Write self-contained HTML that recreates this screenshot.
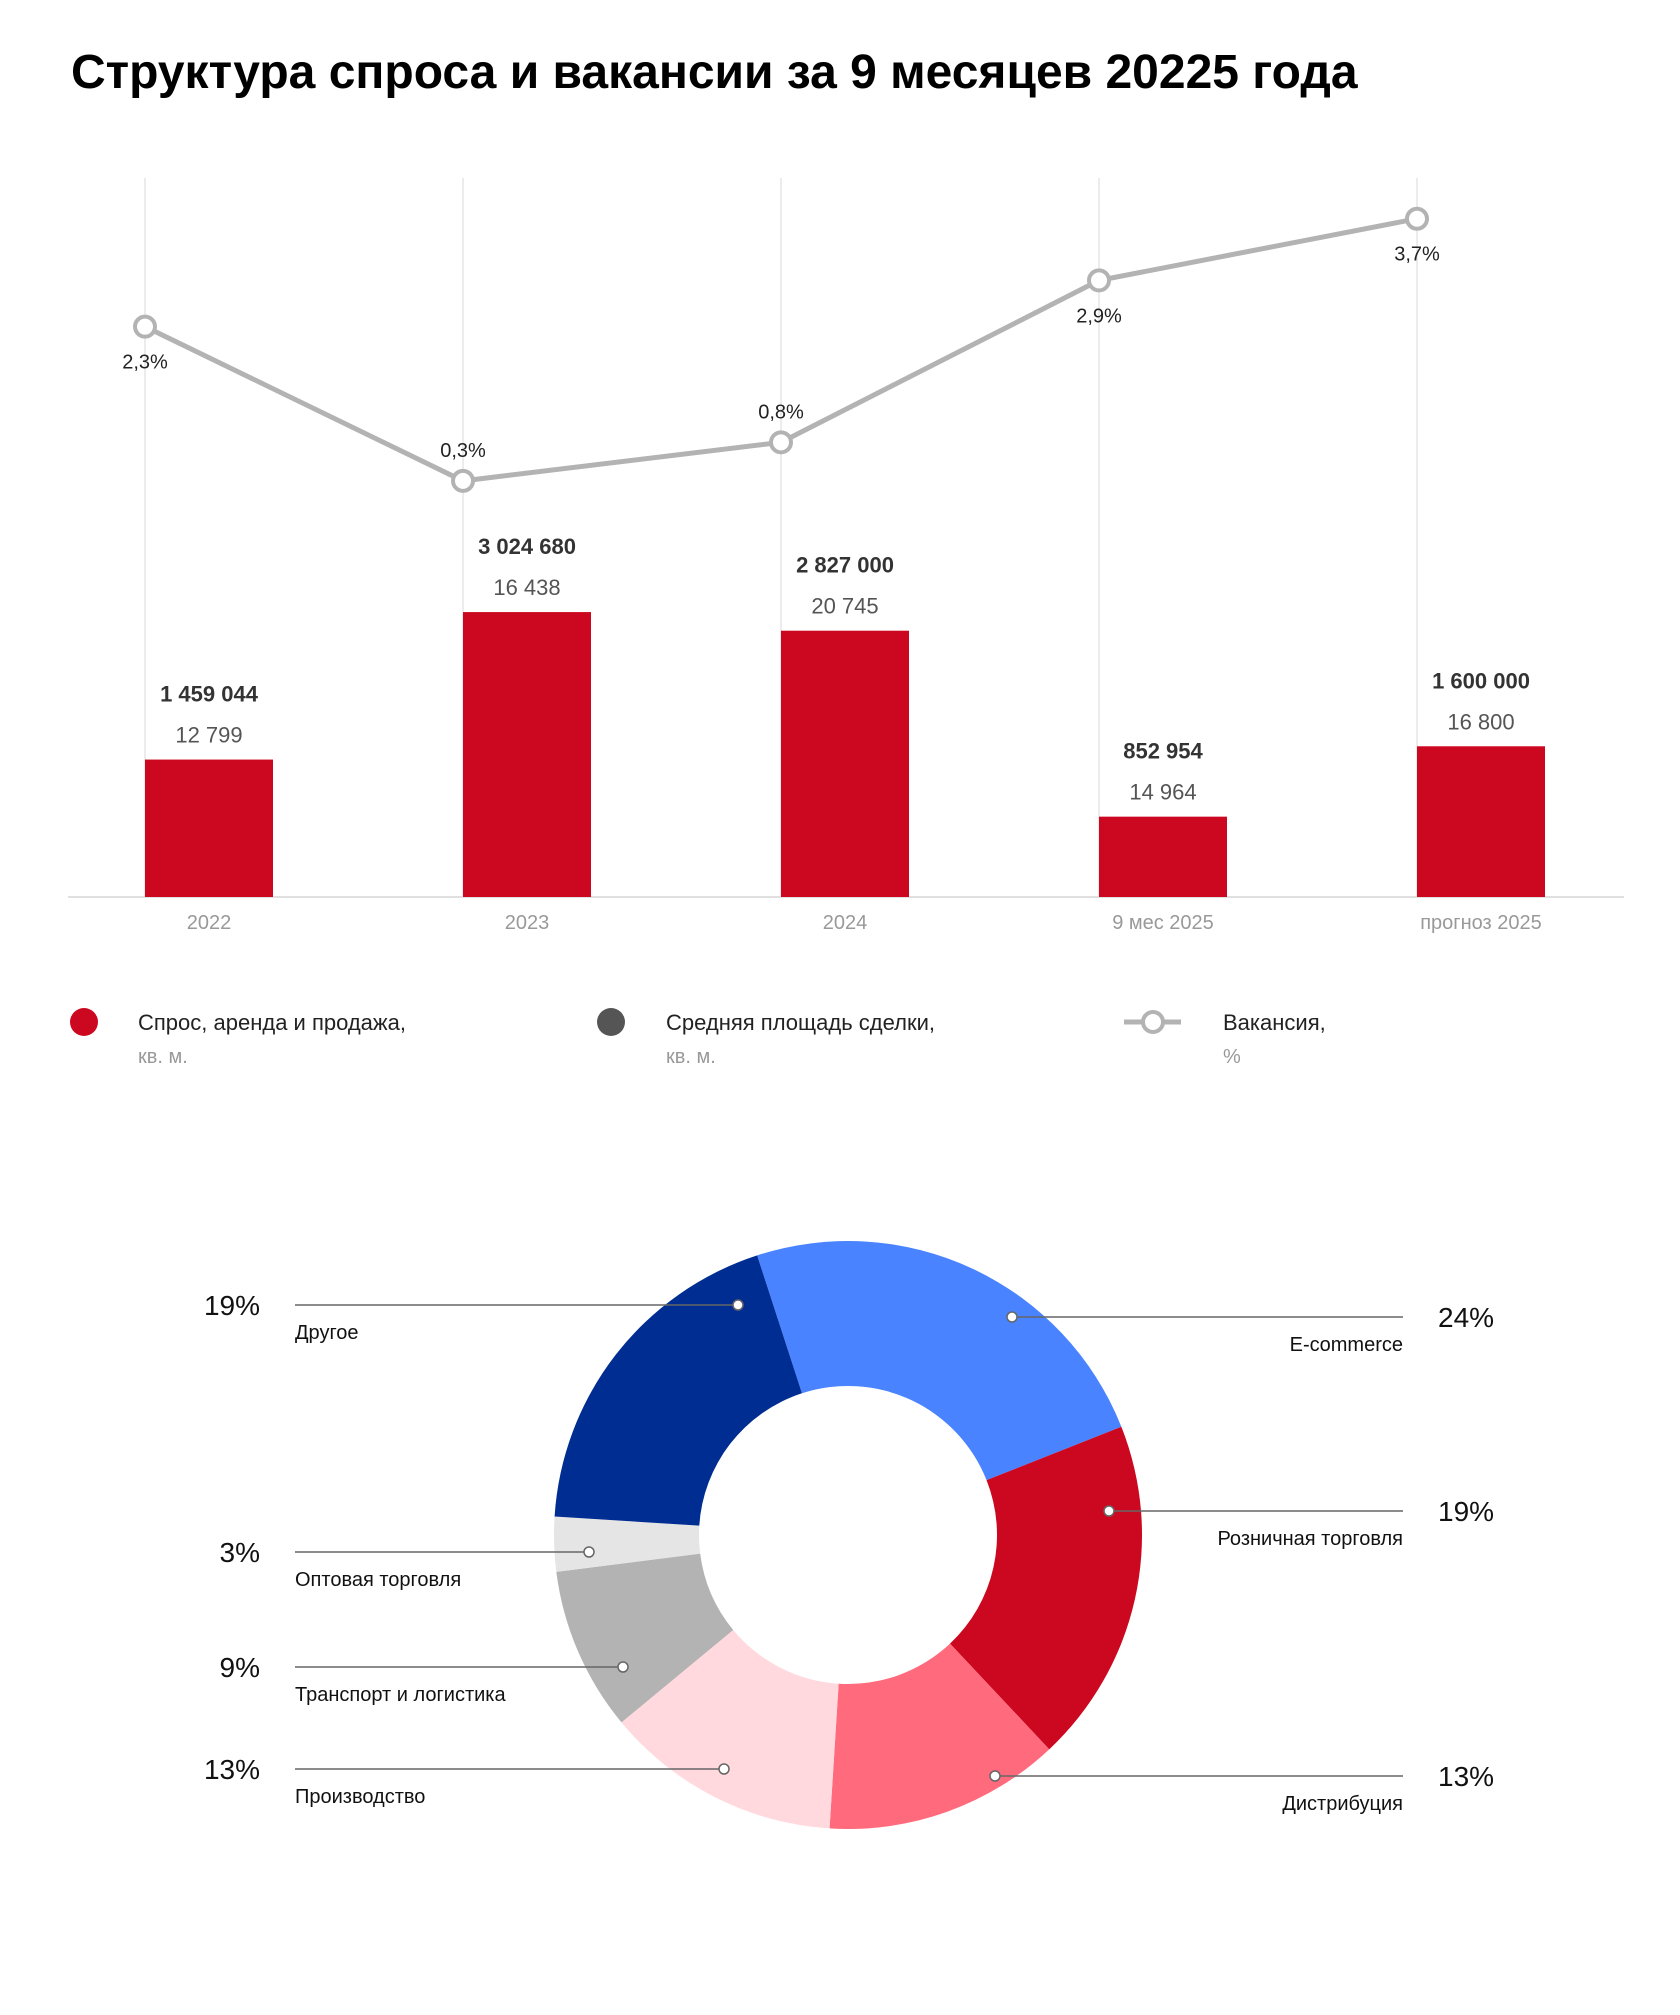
<!DOCTYPE html>
<html><head><meta charset="utf-8">
<style>
html,body{margin:0;padding:0;background:#fff;}
body{width:1680px;height:2010px;overflow:hidden;font-family:"Liberation Sans","DejaVu Sans",sans-serif;}
svg text{font-family:"Liberation Sans","DejaVu Sans",sans-serif;}
</style></head>
<body>
<svg id="chart" width="1680" height="2010" xmlns="http://www.w3.org/2000/svg">
<text x="71" y="88" font-size="48" font-weight="bold" fill="#000">Структура спроса и вакансии за 9 месяцев 20225 года</text>
<g id="bars"></g>
<g id="legend">
<circle cx="84" cy="1022" r="14" fill="#cc0820"/>
<text x="138" y="1030" font-size="22" fill="#222">Спрос, аренда и продажа,</text>
<text x="138" y="1063" font-size="20" fill="#999">кв. м.</text>
<circle cx="611" cy="1022" r="14" fill="#555"/>
<text x="666" y="1030" font-size="22" fill="#222">Средняя площадь сделки,</text>
<text x="666" y="1063" font-size="20" fill="#999">кв. м.</text>
<line x1="1124" y1="1022" x2="1181" y2="1022" stroke="#b3b3b3" stroke-width="5"/>
<circle cx="1153" cy="1022" r="10" fill="#fff" stroke="#b3b3b3" stroke-width="4"/>
<text x="1223" y="1030" font-size="22" fill="#222">Вакансия,</text>
<text x="1223" y="1063" font-size="20" fill="#999">%</text>
</g>
<g id="donut"></g>
</svg>
<script>
const categories = ["2022","2023","2024","9 мес 2025","прогноз 2025"];
const demand = [1459044,3024680,2827000,852954,1600000];
const demandLabels = ["1 459 044","3 024 680","2 827 000","852 954","1 600 000"];
const avgArea = ["12 799","16 438","20 745","14 964","16 800"];
const vacancy = [2.3,0.3,0.8,2.9,3.7];
const vacancyLabels = ["2,3%","0,3%","0,8%","2,9%","3,7%"];
const vacancyLabelBelow = [true,false,false,true,true];

const sectors = ["E-commerce","Розничная торговля","Дистрибуция","Производство","Транспорт и логистика","Оптовая торговля","Другое"];
const shares = [24,19,13,13,9,3,19];
const shareLabels = ["24%","19%","13%","13%","9%","3%","19%"];

const NS="http://www.w3.org/2000/svg";
function mk(tag,attrs,parent,txt){const e=document.createElementNS(NS,tag);for(const k in attrs)e.setAttribute(k,attrs[k]);if(txt!==undefined)e.textContent=txt;parent.appendChild(e);return e;}

const baseY=897, gx0=145, gstep=318, barW=128;
const xPos=i=>gx0+i*gstep;
const yBar=v=>baseY - v*9.42e-5;
const yLine=v=>504 - v*77.1;
const bars=document.getElementById('bars');
categories.forEach((c,i)=>{
  const g=mk('line',{x1:xPos(i),x2:xPos(i),y1:178,y2:baseY,stroke:'#e6e6e6','stroke-width':1.5},bars);
  
  
});
const ax=mk('line',{x1:68,x2:1624,y1:baseY,y2:baseY,stroke:'#e0e0e0','stroke-width':2},bars);


categories.forEach((c,i)=>{
  const x=xPos(i), y=yBar(demand[i]);
  const r=mk('rect',{x:x,y:y,width:barW,height:baseY-y,fill:'#cc0820'},bars);
  
  
  const t1=mk('text',{x:x+barW/2,y:y-58,'font-size':22,'font-weight':'bold',fill:'#333','text-anchor':'middle'},bars,demandLabels[i]);
  
  
  const t2=mk('text',{x:x+barW/2,y:y-17,'font-size':22,fill:'#555','text-anchor':'middle'},bars,avgArea[i]);
  
  
  const t3=mk('text',{x:x+barW/2,y:929,'font-size':20,fill:'#999','text-anchor':'middle'},bars,c);
  
  
});
const pts=vacancy.map((v,i)=>xPos(i)+','+yLine(v)).join(' ');
const pl=mk('polyline',{points:pts,fill:'none',stroke:'#b3b3b3','stroke-width':5},bars);


vacancy.forEach((v,i)=>{
  const c=mk('circle',{cx:xPos(i),cy:yLine(v),r:10,fill:'#fff',stroke:'#b3b3b3','stroke-width':4},bars);
  
  
  const ly=vacancyLabelBelow[i]?yLine(v)+42:yLine(v)-24;
  const t=mk('text',{x:xPos(i),y:ly,'font-size':20,fill:'#222','text-anchor':'middle'},bars,vacancyLabels[i]);
  
  
});

const colors=['#4a83ff','#cc0820','#ff6b7d','#ffd9de','#b3b3b3','#e5e5e5','#002d91'];
const cx=848, cy=1535, R=294, r0=149;
const donut=document.getElementById('donut');
let acc=-18;
const total=shares.reduce((a,b)=>a+b,0);
function pt(a,rad){const t=a*Math.PI/180;return [cx+rad*Math.sin(t),cy-rad*Math.cos(t)];}
shares.forEach((s,i)=>{
  const a0=acc, a1=acc+s/total*360; acc=a1;
  const large=(a1-a0)>180?1:0;
  const p1=pt(a0,R),p2=pt(a1,R),p3=pt(a1,r0),p4=pt(a0,r0);
  const d=`M${p1} A${R},${R} 0 ${large} 1 ${p2} L${p3} A${r0},${r0} 0 ${large} 0 ${p4} Z`;
  const p=mk('path',{d:d,fill:colors[i]},donut);
  
  
});
const leaders=[[1012,1317,'r'],[1109,1511,'r'],[995,1776,'r'],[724,1769,'l'],[623,1667,'l'],[589,1552,'l'],[738,1305,'l']];
sectors.forEach((name,i)=>{
  const [dx,ly,side]=leaders[i];
  const lx=side==='r'?1403:295;
  const l=mk('line',{x1:dx,y1:ly,x2:lx,y2:ly,stroke:'#666','stroke-width':1.5},donut);
  
  
  const c=mk('circle',{cx:dx,cy:ly,r:5,fill:'#fff',stroke:'#666','stroke-width':1.5},donut);
  
  
  const n=mk('text',{x:lx,y:ly+34,'font-size':20,fill:'#111','text-anchor':side==='r'?'end':'start'},donut,name);
  
  
  const pc=mk('text',{x:side==='r'?1438:260,y:ly+10,'font-size':28,fill:'#111','text-anchor':side==='r'?'start':'end'},donut,shareLabels[i]);
  
  
});
</script>
</body></html>
